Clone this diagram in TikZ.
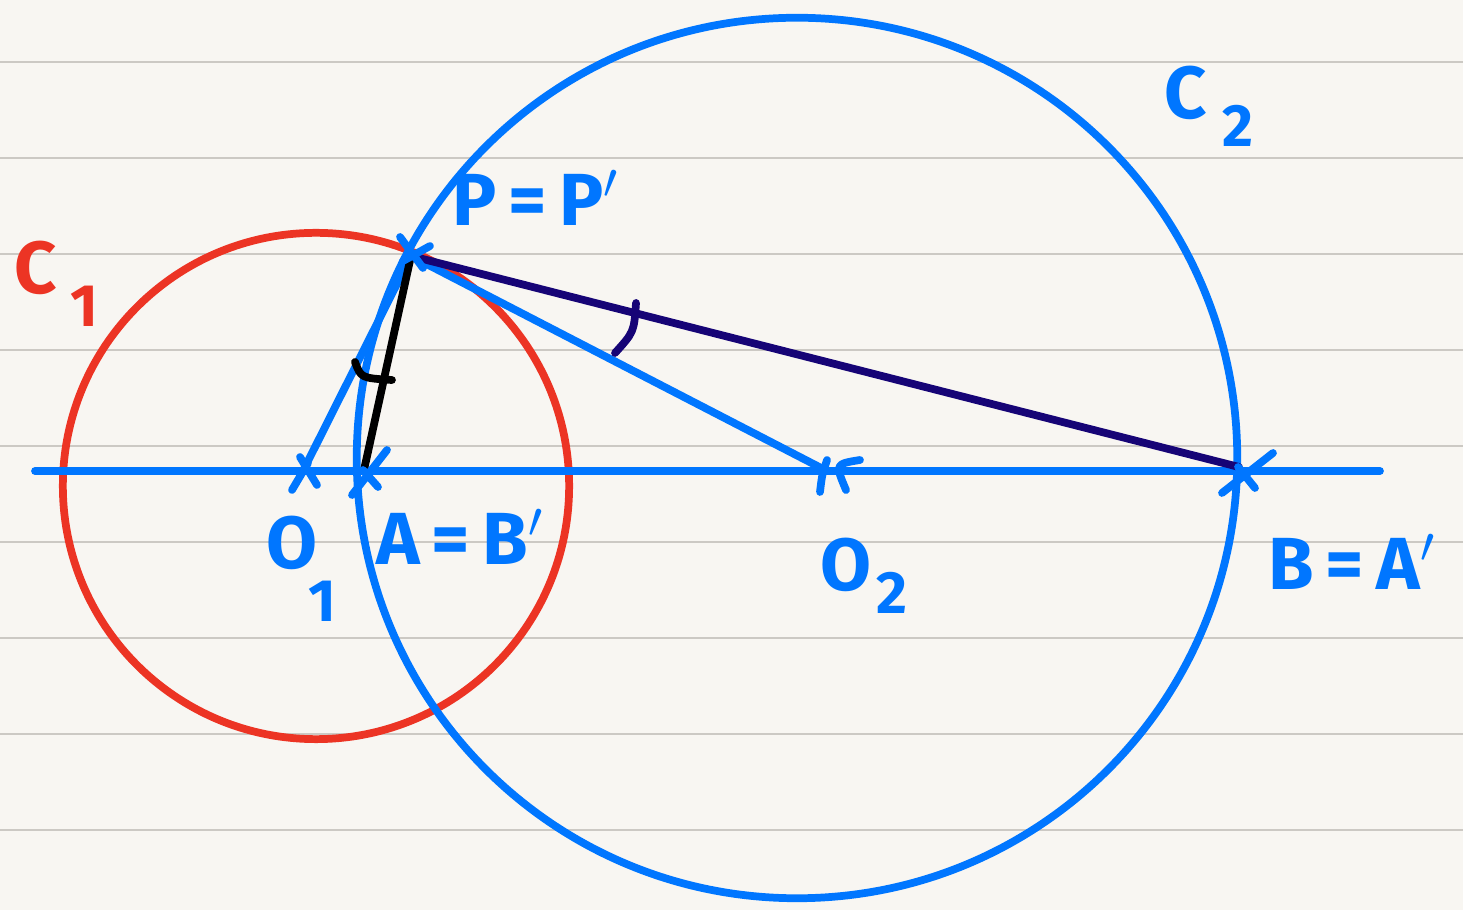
\documentclass[tikz,border=0pt]{standalone}
\usepackage{fontspec}
\setmainfont{Fira Sans}
\usepackage{tikz}
\usetikzlibrary{calc}
\definecolor{paper}{RGB}{248,246,242}
\definecolor{rule}{RGB}{204,201,196}
\definecolor{myblue}{RGB}{0,118,255}
\definecolor{myred}{RGB}{236,52,36}
\definecolor{mynavy}{RGB}{22,4,118}
\tikzset{
  ruled/.style={color=rule, line width=0.6pt},
  pen/.style={line width=2.2pt, line cap=round, line join=round},
  bluepen/.style={pen, color=myblue},
  redpen/.style={pen, color=myred},
  navypen/.style={pen, color=mynavy},
  blackpen/.style={pen, color=black},
  lbl/.style={font=\fontsize{21}{25}\selectfont\bfseries, inner sep=0pt},
  sub/.style={font=\fontsize{17}{20}\selectfont\bfseries, inner sep=0pt}
}
\begin{document}
\begin{tikzpicture}[x=0.01cm, y=-0.01cm]
  % Paper
  \fill[paper] (0,0) rectangle (1463,910);
  \useasboundingbox (0,0) rectangle (1463,910);
  \foreach \y in {62,158,...,830}
    \draw[ruled] (0,\y) -- (1463,\y);

  % Points
  \coordinate (cC1) at (316,486);
  \coordinate (cC2) at (797,458);
  \coordinate (o1) at (303,471);
  \coordinate (o2) at (827,471);
  \coordinate (ptA) at (364,470);
  \coordinate (ptB) at (1239,467);
  \coordinate (ptP) at (411,256);
  \coordinate (axL) at (35,471);
  \coordinate (axR) at (1380,471);

  % Circles
  \draw[redpen] (cC1) circle[radius=2.53cm];
  \draw[bluepen] (cC2) circle[radius=4.40cm];

  % Axis
  \draw[bluepen] (axL) -- (axR);

  % Radii
  \draw[bluepen] (ptP) -- (o1);
  \draw[bluepen] (ptP) -- (o2);

  % Chords
  \draw[blackpen] (ptP) -- (ptA);
  \draw[navypen] (ptP) -- (ptB);

  % Angle marks
  \draw[blackpen] (355,362) .. controls (361,378) .. (392,380);
  \draw[navypen] (636,303) .. controls (634,332) .. (615,353);

  % Crosses
  \draw[bluepen] (400,237) -- (423,268) (430,246) -- (403,261);
  \draw[bluepen] (300,457) -- (317,485) (292,490) -- (308,463);
  \draw[bluepen] (352,495) -- (387,450) (363,470) -- (378,487);
  \draw[bluepen] (820,492) .. controls (822,475) .. (827,460) (860,460) .. controls (835,464) .. (846,490);
  \draw[bluepen] (1273,453) -- (1222,493) (1238,467) -- (1255,488);

  % Labels
  \node[lbl, text=myred] (lC1) at (36,268) {C};
  \node[sub, text=myred] (lC1s) at (84,306) {1};
  \node[lbl, text=myblue] (lC2) at (1186,93) {C};
  \node[sub, text=myblue] (lC2s) at (1238,126) {2};
  \node[lbl, text=myblue] (lP) at (536,198) {P\,=\,P$'$};
  \node[lbl, text=myblue] (lO1) at (292,543) {O};
  \node[sub, text=myblue] (lO1s) at (322,601) {1};
  \node[lbl, text=myblue] (lA) at (460,537) {A\,=\,B$'$};
  \node[lbl, text=myblue] (lO2) at (846,565) {O};
  \node[sub, text=myblue] (lO2s) at (892,593) {2};
  \node[lbl, text=myblue] (lB) at (1352,562) {B\,=\,A$'$};
\end{tikzpicture}
\end{document}
